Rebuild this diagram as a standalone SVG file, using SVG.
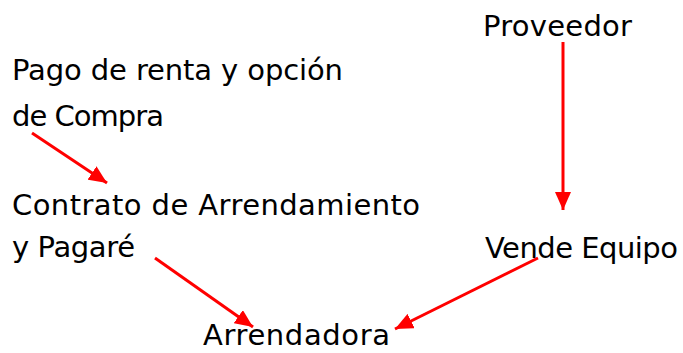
<svg xmlns="http://www.w3.org/2000/svg" width="683" height="353" viewBox="0 0 683 353">
<style>
text{font-family:"DejaVu Sans","Liberation Sans",sans-serif;font-size:29px;fill:#000}
.c{stroke:#ff0000;stroke-width:3;fill:none}
</style>
<defs>
<marker id="a" viewBox="0 0 18 16" refX="18" refY="8" markerWidth="18" markerHeight="16" orient="auto" markerUnits="userSpaceOnUse">
<path d="M0,0 L18,8 L0,16 Z" fill="#ff0000"/>
</marker>
</defs>
<rect width="683" height="353" fill="#fff"/>
<g id="proveedor"><text x="483" y="36" textLength="149">Proveedor</text></g>
<g id="pago"><text x="12" y="80" textLength="331">Pago de renta y opción</text><text x="12" y="126" textLength="152">de Compra</text></g>
<g id="contrato"><text x="12" y="215" textLength="408">Contrato de Arrendamiento</text><text x="12" y="257" textLength="123">y Pagaré</text></g>
<g id="vende"><text x="485" y="258" textLength="193">Vende Equipo</text></g>
<g id="arrendadora"><text x="203" y="345" textLength="187">Arrendadora</text></g>
<g id="connectors">
<line class="c" x1="32" y1="133" x2="107" y2="183" marker-end="url(#a)"/>
<line class="c" x1="155" y1="258" x2="253" y2="327" marker-end="url(#a)"/>
<line class="c" x1="538" y1="258" x2="395" y2="329" marker-end="url(#a)"/>
<line class="c" x1="563" y1="42" x2="563" y2="210" marker-end="url(#a)"/>
</g>
</svg>
